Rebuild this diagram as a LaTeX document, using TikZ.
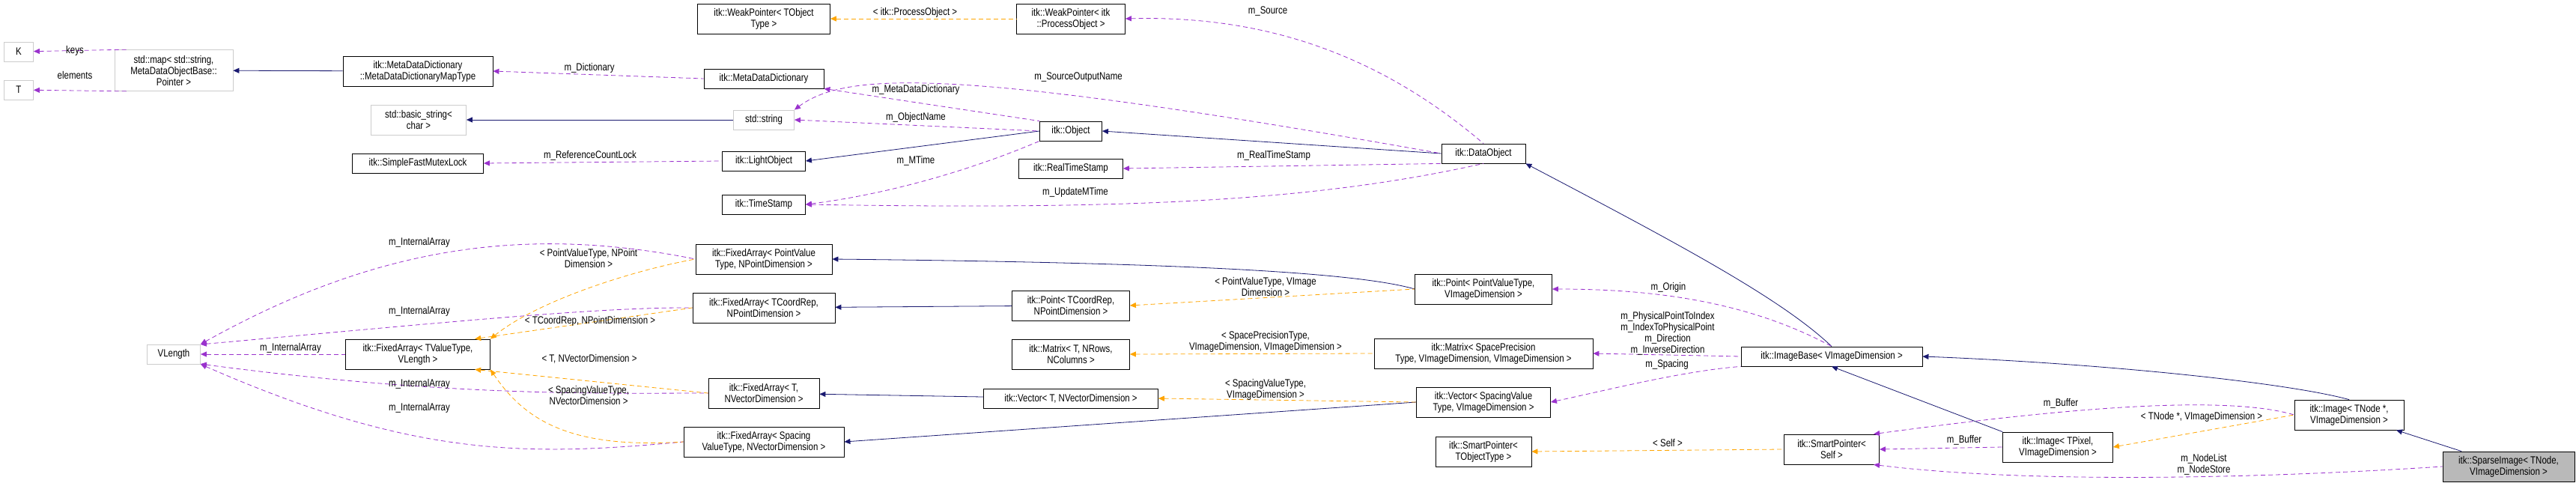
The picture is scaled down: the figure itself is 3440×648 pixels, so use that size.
\documentclass[tikz,border=0pt]{standalone}
\usepackage{fontspec}
\setmainfont{Liberation Sans}[FakeStretch=0.82]
\usetikzlibrary{arrows.meta, positioning}

\definecolor{inherit}{HTML}{191970}
\definecolor{member}{HTML}{9A32CD}
\definecolor{templ}{HTML}{FFA500}

\begin{document}
\begin{tikzpicture}[x=1pt, y=-1pt, font=\fontsize{14}{15}\selectfont]
  \tikzstyle{cls} = [rectangle, draw=black, thick, align=center, inner sep=1pt, minimum height=26pt]
  \tikzstyle{ext} = [cls, draw=gray!40]
  \tikzstyle{two} = [minimum height=40pt]
  \tikzstyle{isa} = [draw=inherit, thick, {Triangle[length=8pt,width=7pt]}-]
  \tikzstyle{has} = [draw=member, thick, dashed, dash pattern=on 6pt off 4pt, {Triangle[length=8pt,width=7pt]}-]
  \tikzstyle{tpl} = [draw=templ, thick, dashed, dash pattern=on 6pt off 4pt, {Triangle[length=8pt,width=7pt]}-]
  \tikzstyle{lbl} = [align=center, inner sep=0pt]

  \useasboundingbox (0,0) rectangle (3440,648);

  % Left column
  \node (k) at (25,69) [ext, minimum width=39pt] {K};
  \node (t) at (25,120) [ext, minimum width=39pt] {T};
  \node (map) at (232,94) [ext, minimum width=158pt, minimum height=55pt] {std::map< std::string,\\ MetaDataObjectBase::\\Pointer >};
  \node (vlength) at (232,473) [ext, minimum width=71pt] {VLength};

  \node (maptype) at (558,95) [cls, two, minimum width=200pt] {itk::MetaDataDictionary\\::MetaDataDictionaryMapType};
  \node (bstring) at (559,160) [ext, two, minimum width=127pt] {std::basic\_string<\\char >};
  \node (mutex) at (558,218) [cls, minimum width=175pt] {itk::SimpleFastMutexLock};
  \node (fatv) at (558,473) [cls, two, minimum width=193pt] {itk::FixedArray< TValueType,\\VLength >};

  % Middle columns
  \node (wpt) at (1020,25) [cls, two, minimum width=177pt] {itk::WeakPointer< TObject\\Type >};
  \node (wpp) at (1430,25) [cls, two, minimum width=145pt] {itk::WeakPointer< itk\\::ProcessObject >};
  \node (mdd) at (1020,105) [cls, minimum width=160pt] {itk::MetaDataDictionary};
  \node (string) at (1020,160) [ext, minimum width=81pt] {std::string};
  \node (object) at (1430,175) [cls, minimum width=83pt] {itk::Object};
  \node (light) at (1020,215) [cls, minimum width=111pt] {itk::LightObject};
  \node (rts) at (1430,225) [cls, minimum width=139pt] {itk::RealTimeStamp};
  \node (ts) at (1020,273) [cls, minimum width=111pt] {itk::TimeStamp};

  \node (fapv) at (1020,346) [cls, two, minimum width=182pt] {itk::FixedArray< PointValue\\Type, NPointDimension >};
  \node (fatc) at (1020,411) [cls, two, minimum width=190pt] {itk::FixedArray< TCoordRep,\\NPointDimension >};
  \node (fatn) at (1020,525) [cls, two, minimum width=148pt] {itk::FixedArray< T,\\NVectorDimension >};
  \node (fasp) at (1020,590) [cls, two, minimum width=214pt] {itk::FixedArray< Spacing\\ValueType, NVectorDimension >};
  \node (pttc) at (1430,408) [cls, two, minimum width=157pt] {itk::Point< TCoordRep,\\NPointDimension >};
  \node (mxt) at (1430,473) [cls, two, minimum width=157pt] {itk::Matrix< T, NRows,\\NColumns >};
  \node (vct) at (1430,532) [cls, minimum width=233pt] {itk::Vector< T, NVectorDimension >};

  \node (dobj) at (1981,205) [cls, minimum width=112pt] {itk::DataObject};
  \node (ptpv) at (1981,386) [cls, two, minimum width=183pt] {itk::Point< PointValueType,\\VImageDimension >};
  \node (mxsp) at (1981,472) [cls, two, minimum width=292pt] {itk::Matrix< SpacePrecision\\Type, VImageDimension, VImageDimension >};
  \node (vcsp) at (1981,537) [cls, two, minimum width=179pt] {itk::Vector< SpacingValue\\Type, VImageDimension >};
  \node (spt) at (1981,603) [cls, two, minimum width=128pt] {itk::SmartPointer<\\TObjectType >};

  % Right side
  \node (ibase) at (2446,476) [cls, minimum width=242pt] {itk::ImageBase< VImageDimension >};
  \node (sps) at (2446,600) [cls, two, minimum width=127pt] {itk::SmartPointer<\\Self >};
  \node (imgpx) at (2748,597) [cls, two, minimum width=147pt] {itk::Image< TPixel,\\VImageDimension >};
  \node (imgnd) at (3137,554) [cls, two, minimum width=146pt] {itk::Image< TNode *,\\VImageDimension >};
  \node (sparse) at (3350,623) [cls, two, minimum width=176pt, fill=gray!55] {itk::SparseImage< TNode,\\VImageDimension >};

  % Inheritance
  \draw[isa] (map) -- (maptype);
  \draw[isa] (bstring) -- (string);
  \draw[isa] (light.east) -- (object.west);
  \draw[isa] (object.east) -- (dobj.west);
  \draw[isa] (dobj.south east) .. controls (2250,330) and (2380,400) .. (ibase.north);
  \draw[isa] (fapv.east) .. controls (1500,350) and (1800,360) .. (ptpv.west);
  \draw[isa] (fatc) -- (pttc);
  \draw[isa] (fatn) -- (vct);
  \draw[isa] (fasp.east) -- (vcsp.west);
  \draw[isa] (ibase.east) .. controls (2800,485) and (3050,510) .. (imgnd.north);
  \draw[isa] (ibase.south) -- (imgpx.north west);
  \draw[isa] (imgnd) -- (sparse);

  % Members
  \draw[has] (k) -- (map.155);
  \draw[has] (t) -- (map.205);
  \draw[has] (maptype.east) -- (mdd.west);
  \draw[has] (mutex.east) -- (light.west);
  \draw[has] (mdd.south east) -- (object.north west);
  \draw[has] (string.east) -- (object.west);
  \draw[has] (ts.east) .. controls (1180,260) and (1290,230) .. (object.south west);
  \draw[has] (string.north east) .. controls (1130,95) and (1280,90) .. (dobj.west);
  \draw[has] (wpp.east) .. controls (1700,20) and (1850,80) .. (dobj.north);
  \draw[has] (rts.east) -- (dobj.south west);
  \draw[has] (ts.east) .. controls (1500,280) and (1750,270) .. (dobj.south);
  \draw[has] (vlength.north east) .. controls (500,330) and (700,300) .. (fapv.west);
  \draw[has] (vlength.20) .. controls (600,430) and (800,410) .. (fatc.west);
  \draw[has] (vlength.east) -- (fatv.west);
  \draw[has] (vlength.-20) .. controls (600,530) and (800,525) .. (fatn.west);
  \draw[has] (vlength.south east) .. controls (550,610) and (700,610) .. (fasp.west);
  \draw[has] (ptpv.east) .. controls (2200,386) and (2330,400) .. (ibase.north);
  \draw[has] (mxsp.east) -- (ibase.west);
  \draw[has] (vcsp.east) .. controls (2150,520) and (2250,495) .. (ibase.south west);
  \draw[has] (sps.20) .. controls (2650,560) and (2950,520) .. (imgnd.west);
  \draw[has] (sps.east) -- (imgpx.west);
  \draw[has] (sps.-20) .. controls (2700,645) and (3000,640) .. (sparse.west);

  % Template instances
  \draw[tpl] (wpt) -- (wpp);
  \draw[tpl] (fatv.north east) .. controls (720,400) and (850,360) .. (fapv.west);
  \draw[tpl] (fatv.15) -- (fatc.west);
  \draw[tpl] (fatv.-15) -- (fatn.west);
  \draw[tpl] (fatv.south east) .. controls (700,560) and (760,600) .. (fasp.west);
  \draw[tpl] (pttc.east) -- (ptpv.west);
  \draw[tpl] (mxt.east) -- (mxsp.west);
  \draw[tpl] (vct.east) -- (vcsp.west);
  \draw[tpl] (spt.east) -- (sps.west);
  \draw[tpl] (imgpx.east) -- (imgnd.west);

  % Labels
  \node[lbl] at (100,68) {keys};
  \node[lbl] at (100,100) {elements};
  \node[lbl] at (787,91) {m\_Dictionary};
  \node[lbl] at (788,208) {m\_ReferenceCountLock};
  \node[lbl] at (1222,17) {< itk::ProcessObject >};
  \node[lbl] at (1693,15) {m\_Source};
  \node[lbl] at (1440,103) {m\_SourceOutputName};
  \node[lbl] at (1223,120) {m\_MetaDataDictionary};
  \node[lbl] at (1223,157) {m\_ObjectName};
  \node[lbl] at (1223,215) {m\_MTime};
  \node[lbl] at (1701,208) {m\_RealTimeStamp};
  \node[lbl] at (1436,257) {m\_UpdateMTime};
  \node[lbl] at (560,324) {m\_InternalArray};
  \node[lbl] at (560,416) {m\_InternalArray};
  \node[lbl] at (388,465) {m\_InternalArray};
  \node[lbl] at (560,513) {m\_InternalArray};
  \node[lbl] at (560,545) {m\_InternalArray};
  \node[lbl] at (786,345) {< PointValueType, NPoint\\Dimension >};
  \node[lbl] at (788,429) {< TCoordRep, NPointDimension >};
  \node[lbl] at (787,479) {< T, NVectorDimension >};
  \node[lbl] at (786,528) {< SpacingValueType,\\NVectorDimension >};
  \node[lbl] at (1690,383) {< PointValueType, VImage\\Dimension >};
  \node[lbl] at (1690,456) {< SpacePrecisionType,\\VImageDimension, VImageDimension >};
  \node[lbl] at (1690,520) {< SpacingValueType,\\VImageDimension >};
  \node[lbl] at (2228,384) {m\_Origin};
  \node[lbl] at (2227,445) {m\_PhysicalPointToIndex\\m\_IndexToPhysicalPoint\\m\_Direction\\m\_InverseDirection};
  \node[lbl] at (2226,487) {m\_Spacing};
  \node[lbl] at (2227,591) {< Self >};
  \node[lbl] at (2623,588) {m\_Buffer};
  \node[lbl] at (2752,539) {m\_Buffer};
  \node[lbl] at (2940,557) {< TNode *, VImageDimension >};
  \node[lbl] at (2943,620) {m\_NodeList\\m\_NodeStore};
\end{tikzpicture}
\end{document}
